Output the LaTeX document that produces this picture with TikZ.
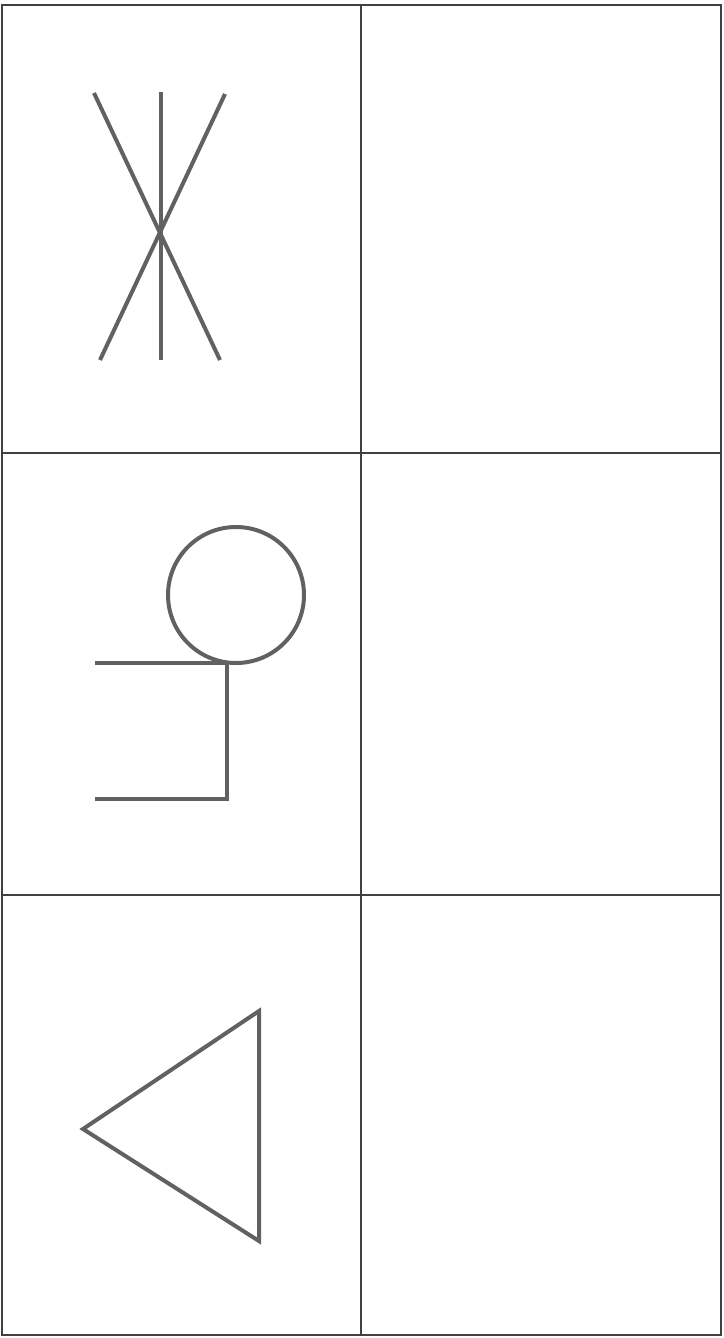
\documentclass[tikz,border=0pt]{standalone}
\begin{document}
\begin{tikzpicture}[x=1pt, y=-1pt,
  frame/.style={draw=black!75, line width=1.3pt},
  shp/.style={draw=black!62, line width=4pt, line join=miter}]
\useasboundingbox[fill=white] (0,0) rectangle (723,1338);
% grid
\draw[frame] (2,5) rectangle (721,1335);
\draw[frame] (361,5) -- (361,1335);
\draw[frame] (2,453) -- (721,453);
\draw[frame] (2,895) -- (721,895);
% cross
\coordinate (vt) at (161,92);
\coordinate (vb) at (161,360);
\coordinate (lt) at (94,93);
\coordinate (rb) at (220,360);
\coordinate (rt) at (225,94);
\coordinate (lb) at (100,360);
\draw[shp] (vt) -- (vb);
\draw[shp] (lt) -- (rb);
\draw[shp] (rt) -- (lb);
% circle and bracket
\node[shp, circle, minimum size=136pt, inner sep=0pt] (c) at (236,595) {};
\coordinate (bt) at (95,663);
\coordinate (bc) at (227,663);
\coordinate (bd) at (227,799);
\coordinate (bb) at (95,799);
\draw[shp] (bt) -- (bc) -- (bd) -- (bb);
% triangle
\coordinate (tl) at (83,1129);
\coordinate (tt) at (259,1011);
\coordinate (tb) at (259,1241);
\draw[shp] (tl) -- (tt) -- (tb) -- cycle;
\end{tikzpicture}
\end{document}
